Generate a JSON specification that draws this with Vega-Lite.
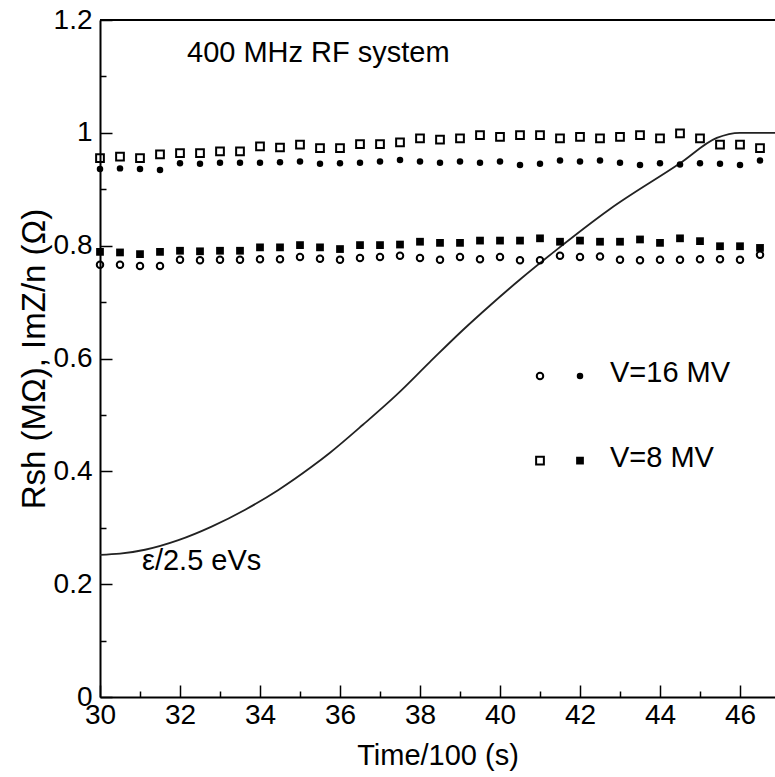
{
  "$schema": "https://vega.github.io/schema/vega-lite/v6.json",
  "width": 675,
  "height": 677,
  "autosize": {"type": "none"},
  "padding": {"left": 100, "top": 20, "right": 0, "bottom": 80},
  "config": {
    "view": {"stroke": null},
    "font": "Liberation Sans",
    "axis": {"grid": false, "domainColor": "black", "domainWidth": 2, "tickColor": "black", "tickWidth": 1.5, "labelColor": "black", "titleColor": "black", "labelFontSize": 28, "titleFontSize": 29, "titleFontWeight": "normal", "labelFont": "Liberation Sans", "titleFont": "Liberation Sans", "labelOverlap": false, "labelFlush": false, "labelBound": false}
  },
  "datasets": {
    "pts": [
      {"t":30,"kind":"open","V":"16 MV","v":0.766},{"t":30.5,"kind":"open","V":"16 MV","v":0.766},{"t":31,"kind":"open","V":"16 MV","v":0.764},{"t":31.5,"kind":"open","V":"16 MV","v":0.764},{"t":32,"kind":"open","V":"16 MV","v":0.775},{"t":32.5,"kind":"open","V":"16 MV","v":0.774},{"t":33,"kind":"open","V":"16 MV","v":0.775},{"t":33.5,"kind":"open","V":"16 MV","v":0.775},{"t":34,"kind":"open","V":"16 MV","v":0.776},{"t":34.5,"kind":"open","V":"16 MV","v":0.776},{"t":35,"kind":"open","V":"16 MV","v":0.780},{"t":35.5,"kind":"open","V":"16 MV","v":0.777},{"t":36,"kind":"open","V":"16 MV","v":0.775},{"t":36.5,"kind":"open","V":"16 MV","v":0.778},{"t":37,"kind":"open","V":"16 MV","v":0.780},{"t":37.5,"kind":"open","V":"16 MV","v":0.782},{"t":38,"kind":"open","V":"16 MV","v":0.778},{"t":38.5,"kind":"open","V":"16 MV","v":0.775},{"t":39,"kind":"open","V":"16 MV","v":0.780},{"t":39.5,"kind":"open","V":"16 MV","v":0.776},{"t":40,"kind":"open","V":"16 MV","v":0.780},{"t":40.5,"kind":"open","V":"16 MV","v":0.774},{"t":41,"kind":"open","V":"16 MV","v":0.774},{"t":41.5,"kind":"open","V":"16 MV","v":0.782},{"t":42,"kind":"open","V":"16 MV","v":0.780},{"t":42.5,"kind":"open","V":"16 MV","v":0.781},{"t":43,"kind":"open","V":"16 MV","v":0.775},{"t":43.5,"kind":"open","V":"16 MV","v":0.774},{"t":44,"kind":"open","V":"16 MV","v":0.775},{"t":44.5,"kind":"open","V":"16 MV","v":0.775},{"t":45,"kind":"open","V":"16 MV","v":0.776},{"t":45.5,"kind":"open","V":"16 MV","v":0.776},{"t":46,"kind":"open","V":"16 MV","v":0.775},{"t":46.5,"kind":"open","V":"16 MV","v":0.784},
      {"t":30,"kind":"filled","V":"16 MV","v":0.936},{"t":30.5,"kind":"filled","V":"16 MV","v":0.937},{"t":31,"kind":"filled","V":"16 MV","v":0.936},{"t":31.5,"kind":"filled","V":"16 MV","v":0.934},{"t":32,"kind":"filled","V":"16 MV","v":0.946},{"t":32.5,"kind":"filled","V":"16 MV","v":0.945},{"t":33,"kind":"filled","V":"16 MV","v":0.947},{"t":33.5,"kind":"filled","V":"16 MV","v":0.947},{"t":34,"kind":"filled","V":"16 MV","v":0.947},{"t":34.5,"kind":"filled","V":"16 MV","v":0.948},{"t":35,"kind":"filled","V":"16 MV","v":0.949},{"t":35.5,"kind":"filled","V":"16 MV","v":0.945},{"t":36,"kind":"filled","V":"16 MV","v":0.946},{"t":36.5,"kind":"filled","V":"16 MV","v":0.947},{"t":37,"kind":"filled","V":"16 MV","v":0.949},{"t":37.5,"kind":"filled","V":"16 MV","v":0.952},{"t":38,"kind":"filled","V":"16 MV","v":0.949},{"t":38.5,"kind":"filled","V":"16 MV","v":0.947},{"t":39,"kind":"filled","V":"16 MV","v":0.949},{"t":39.5,"kind":"filled","V":"16 MV","v":0.947},{"t":40,"kind":"filled","V":"16 MV","v":0.949},{"t":40.5,"kind":"filled","V":"16 MV","v":0.943},{"t":41,"kind":"filled","V":"16 MV","v":0.945},{"t":41.5,"kind":"filled","V":"16 MV","v":0.951},{"t":42,"kind":"filled","V":"16 MV","v":0.949},{"t":42.5,"kind":"filled","V":"16 MV","v":0.951},{"t":43,"kind":"filled","V":"16 MV","v":0.947},{"t":43.5,"kind":"filled","V":"16 MV","v":0.943},{"t":44,"kind":"filled","V":"16 MV","v":0.946},{"t":44.5,"kind":"filled","V":"16 MV","v":0.944},{"t":45,"kind":"filled","V":"16 MV","v":0.946},{"t":45.5,"kind":"filled","V":"16 MV","v":0.945},{"t":46,"kind":"filled","V":"16 MV","v":0.943},{"t":46.5,"kind":"filled","V":"16 MV","v":0.951},
      {"t":30,"kind":"open","V":"8 MV","v":0.955},{"t":30.5,"kind":"open","V":"8 MV","v":0.958},{"t":31,"kind":"open","V":"8 MV","v":0.955},{"t":31.5,"kind":"open","V":"8 MV","v":0.962},{"t":32,"kind":"open","V":"8 MV","v":0.964},{"t":32.5,"kind":"open","V":"8 MV","v":0.964},{"t":33,"kind":"open","V":"8 MV","v":0.967},{"t":33.5,"kind":"open","V":"8 MV","v":0.967},{"t":34,"kind":"open","V":"8 MV","v":0.976},{"t":34.5,"kind":"open","V":"8 MV","v":0.974},{"t":35,"kind":"open","V":"8 MV","v":0.979},{"t":35.5,"kind":"open","V":"8 MV","v":0.973},{"t":36,"kind":"open","V":"8 MV","v":0.973},{"t":36.5,"kind":"open","V":"8 MV","v":0.980},{"t":37,"kind":"open","V":"8 MV","v":0.980},{"t":37.5,"kind":"open","V":"8 MV","v":0.983},{"t":38,"kind":"open","V":"8 MV","v":0.990},{"t":38.5,"kind":"open","V":"8 MV","v":0.988},{"t":39,"kind":"open","V":"8 MV","v":0.990},{"t":39.5,"kind":"open","V":"8 MV","v":0.996},{"t":40,"kind":"open","V":"8 MV","v":0.993},{"t":40.5,"kind":"open","V":"8 MV","v":0.996},{"t":41,"kind":"open","V":"8 MV","v":0.996},{"t":41.5,"kind":"open","V":"8 MV","v":0.990},{"t":42,"kind":"open","V":"8 MV","v":0.993},{"t":42.5,"kind":"open","V":"8 MV","v":0.990},{"t":43,"kind":"open","V":"8 MV","v":0.993},{"t":43.5,"kind":"open","V":"8 MV","v":0.996},{"t":44,"kind":"open","V":"8 MV","v":0.990},{"t":44.5,"kind":"open","V":"8 MV","v":0.999},{"t":45,"kind":"open","V":"8 MV","v":0.990},{"t":45.5,"kind":"open","V":"8 MV","v":0.979},{"t":46,"kind":"open","V":"8 MV","v":0.979},{"t":46.5,"kind":"open","V":"8 MV","v":0.973},
      {"t":30,"kind":"filled","V":"8 MV","v":0.789},{"t":30.5,"kind":"filled","V":"8 MV","v":0.788},{"t":31,"kind":"filled","V":"8 MV","v":0.785},{"t":31.5,"kind":"filled","V":"8 MV","v":0.789},{"t":32,"kind":"filled","V":"8 MV","v":0.791},{"t":32.5,"kind":"filled","V":"8 MV","v":0.790},{"t":33,"kind":"filled","V":"8 MV","v":0.791},{"t":33.5,"kind":"filled","V":"8 MV","v":0.791},{"t":34,"kind":"filled","V":"8 MV","v":0.797},{"t":34.5,"kind":"filled","V":"8 MV","v":0.797},{"t":35,"kind":"filled","V":"8 MV","v":0.801},{"t":35.5,"kind":"filled","V":"8 MV","v":0.797},{"t":36,"kind":"filled","V":"8 MV","v":0.794},{"t":36.5,"kind":"filled","V":"8 MV","v":0.801},{"t":37,"kind":"filled","V":"8 MV","v":0.801},{"t":37.5,"kind":"filled","V":"8 MV","v":0.802},{"t":38,"kind":"filled","V":"8 MV","v":0.807},{"t":38.5,"kind":"filled","V":"8 MV","v":0.805},{"t":39,"kind":"filled","V":"8 MV","v":0.805},{"t":39.5,"kind":"filled","V":"8 MV","v":0.809},{"t":40,"kind":"filled","V":"8 MV","v":0.809},{"t":40.5,"kind":"filled","V":"8 MV","v":0.809},{"t":41,"kind":"filled","V":"8 MV","v":0.813},{"t":41.5,"kind":"filled","V":"8 MV","v":0.807},{"t":42,"kind":"filled","V":"8 MV","v":0.809},{"t":42.5,"kind":"filled","V":"8 MV","v":0.807},{"t":43,"kind":"filled","V":"8 MV","v":0.807},{"t":43.5,"kind":"filled","V":"8 MV","v":0.811},{"t":44,"kind":"filled","V":"8 MV","v":0.805},{"t":44.5,"kind":"filled","V":"8 MV","v":0.813},{"t":45,"kind":"filled","V":"8 MV","v":0.808},{"t":45.5,"kind":"filled","V":"8 MV","v":0.799},{"t":46,"kind":"filled","V":"8 MV","v":0.799},{"t":46.5,"kind":"filled","V":"8 MV","v":0.796}
    ],
    "legendpts": [
      {"t":41.0,"kind":"open","V":"16 MV","v":0.569},
      {"t":42.0,"kind":"filled","V":"16 MV","v":0.569},
      {"t":41.0,"kind":"open","V":"8 MV","v":0.419},
      {"t":42.0,"kind":"filled","V":"8 MV","v":0.419}
    ],
    "curve": [
      {"t":30,"v":0.252},{"t":30.5,"v":0.254},{"t":31.125,"v":0.261},{"t":31.96,"v":0.278},{"t":32.79,"v":0.302},{"t":33.63,"v":0.332},{"t":34.46,"v":0.367},{"t":35.29,"v":0.408},{"t":35.75,"v":0.433},{"t":36.58,"v":0.483},{"t":37.42,"v":0.536},{"t":38.25,"v":0.594},{"t":39.08,"v":0.651},{"t":39.75,"v":0.694},{"t":40.5,"v":0.740},{"t":41.42,"v":0.793},{"t":42.75,"v":0.865},{"t":44.5,"v":0.946},{"t":45.42,"v":0.991},{"t":46.0,"v":1.0},{"t":46.875,"v":1.0}
    ],
    "labels": [
      {"t":32.175,"v":1.126,"text":"400 MHz RF system"},
      {"t":31.05,"v":0.225,"text":"ε/2.5 eVs"},
      {"t":42.75,"v":0.5585,"text":"V=16 MV"},
      {"t":42.75,"v":0.408,"text":"V=8 MV"}
    ]
  },
  "layer": [
    {
      "data": {"name": "curve"},
      "mark": {"type": "line", "color": "#222222", "strokeWidth": 1.8, "interpolate": "monotone"},
      "encoding": {
        "x": {"field": "t", "type": "quantitative", "scale": {"domain": [30, 46.875], "nice": false, "zero": false},
          "axis": {"title": "Time/100 (s)", "titlePadding": 6,
            "values": [30,30.5,31,31.5,32,32.5,33,33.5,34,34.5,35,35.5,36,36.5,37,37.5,38,38.5,39,39.5,40,40.5,41,41.5,42,42.5,43,43.5,44,44.5,45,45.5,46,46.5],
            "labelExpr": "datum.value % 2 === 0 ? '' + datum.value : ''",
            "tickSize": {"expr": "datum.value % 2 === 0 ? -12 : -6"},
            "labelPadding": 16}},
        "y": {"field": "v", "type": "quantitative", "scale": {"domain": [0, 1.2], "nice": false, "zero": false},
          "axis": {"title": "Rsh (MΩ), ImZ/n (Ω)", "titlePadding": 2, "titleFontSize": 33,
            "values": [0,0.05,0.1,0.15,0.2,0.25,0.3,0.35,0.4,0.45,0.5,0.55,0.6,0.65,0.7,0.75,0.8,0.85,0.9,0.95,1,1.05,1.1,1.15,1.2],
            "labelExpr": "abs(datum.value*5 - round(datum.value*5)) < 0.001 ? '' + round(datum.value*10)/10 : ''",
            "tickSize": {"expr": "abs(datum.value*5 - round(datum.value*5)) < 0.001 ? -12 : -6"},
            "labelPadding": 20}}
      }
    },
    {
      "data": {"values": [{}]},
      "mark": {"type": "rule", "color": "black", "strokeWidth": 2},
      "encoding": {"y": {"datum": 1.2, "type": "quantitative"}}
    },
    {
      "data": {"name": "pts"},
      "transform": [{"filter": "datum.kind === 'open'"}],
      "mark": {"type": "point", "filled": false, "stroke": "black", "strokeWidth": 2, "opacity": 1},
      "encoding": {
        "x": {"field": "t", "type": "quantitative"},
        "y": {"field": "v", "type": "quantitative"},
        "shape": {"field": "V", "type": "nominal", "scale": {"domain": ["16 MV", "8 MV"], "range": ["circle", "square"]}, "legend": null},
        "size": {"field": "V", "type": "nominal", "scale": {"domain": ["16 MV", "8 MV"], "range": [42, 60]}, "legend": null}
      }
    },
    {
      "data": {"name": "pts"},
      "transform": [{"filter": "datum.kind === 'filled'"}],
      "mark": {"type": "point", "filled": true, "color": "black", "opacity": 1},
      "encoding": {
        "x": {"field": "t", "type": "quantitative"},
        "y": {"field": "v", "type": "quantitative"},
        "shape": {"field": "V", "type": "nominal", "scale": {"domain": ["16 MV", "8 MV"], "range": ["circle", "square"]}, "legend": null},
        "size": {"field": "V", "type": "nominal", "scale": {"domain": ["16 MV", "8 MV"], "range": [64, 76]}, "legend": null}
      }
    },
    {
      "data": {"name": "legendpts"},
      "transform": [{"filter": "datum.kind === 'open'"}],
      "mark": {"type": "point", "filled": false, "stroke": "black", "strokeWidth": 2, "opacity": 1},
      "encoding": {
        "x": {"field": "t", "type": "quantitative"},
        "y": {"field": "v", "type": "quantitative"},
        "shape": {"field": "V", "type": "nominal", "legend": null},
        "size": {"field": "V", "type": "nominal", "legend": null}
      }
    },
    {
      "data": {"name": "legendpts"},
      "transform": [{"filter": "datum.kind === 'filled'"}],
      "mark": {"type": "point", "filled": true, "color": "black", "opacity": 1},
      "encoding": {
        "x": {"field": "t", "type": "quantitative"},
        "y": {"field": "v", "type": "quantitative"},
        "shape": {"field": "V", "type": "nominal", "legend": null},
        "size": {"field": "V", "type": "nominal", "legend": null}
      }
    },
    {
      "data": {"name": "labels"},
      "mark": {"type": "text", "align": "left", "baseline": "alphabetic", "fontSize": 29, "font": "Liberation Sans", "color": "black"},
      "encoding": {
        "x": {"field": "t", "type": "quantitative"},
        "y": {"field": "v", "type": "quantitative"},
        "text": {"field": "text"}
      }
    }
  ]
}
